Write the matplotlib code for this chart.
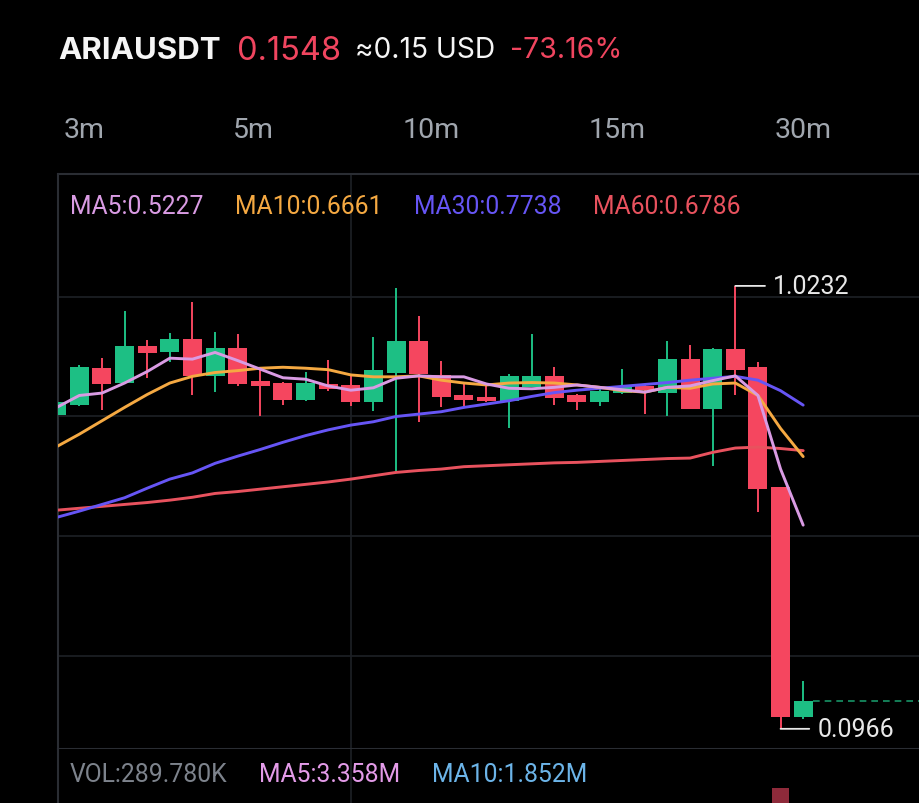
# coding=utf-8
import matplotlib
matplotlib.use('Agg')
import matplotlib.pyplot as plt
import numpy as np

# K线数据 (从截图估读)
opens = [0.753, 0.774, 0.852, 0.820, 0.897, 0.884, 0.912, 0.835, 0.893, 0.824,
         0.820, 0.785, 0.819, 0.816, 0.780, 0.842, 0.907, 0.837, 0.795, 0.790,
         0.783, 0.811, 0.834, 0.795, 0.780, 0.799, 0.813, 0.799, 0.870, 0.766,
         0.891, 0.853, 0.602, 0.122]
highs = [0.780, 0.858, 0.872, 0.970, 0.909, 0.925, 0.989, 0.926, 0.922, 0.848,
         0.822, 0.844, 0.868, 0.835, 0.916, 1.019, 0.960, 0.866, 0.820, 0.813,
         0.839, 0.923, 0.853, 0.798, 0.814, 0.849, 0.818, 0.908, 0.900, 0.893,
         1.0232, 0.865, 0.602, 0.196]
lows = [0.753, 0.773, 0.764, 0.818, 0.831, 0.863, 0.794, 0.801, 0.813, 0.752,
        0.774, 0.782, 0.804, 0.773, 0.762, 0.635, 0.738, 0.769, 0.773, 0.780,
        0.726, 0.811, 0.774, 0.764, 0.771, 0.798, 0.755, 0.752, 0.766, 0.647,
        0.795, 0.550, 0.0966, 0.117]
closes = [0.780, 0.853, 0.819, 0.897, 0.883, 0.912, 0.835, 0.893, 0.819, 0.814,
          0.785, 0.821, 0.808, 0.780, 0.847, 0.907, 0.839, 0.790, 0.785, 0.782,
          0.834, 0.834, 0.789, 0.780, 0.804, 0.813, 0.805, 0.870, 0.766, 0.891,
          0.848, 0.598, 0.122, 0.1548]

# 均线 (从截图估读)
ma5 = [0.769, 0.794, 0.799, 0.820, 0.844, 0.872, 0.870, 0.884, 0.867, 0.849,
       0.831, 0.828, 0.814, 0.805, 0.810, 0.830, 0.835, 0.833, 0.833, 0.818,
       0.809, 0.808, 0.811, 0.816, 0.811, 0.806, 0.801, 0.811, 0.814, 0.825,
       0.835, 0.794, 0.640, 0.5227]
ma10 = [0.687, 0.713, 0.741, 0.769, 0.796, 0.820, 0.834, 0.842, 0.846, 0.851,
        0.853, 0.851, 0.848, 0.837, 0.833, 0.833, 0.835, 0.826, 0.820, 0.816,
        0.820, 0.821, 0.820, 0.816, 0.811, 0.804, 0.801, 0.811, 0.809, 0.818,
        0.820, 0.794, 0.725, 0.6661]
ma30 = [0.539, 0.552, 0.566, 0.580, 0.600, 0.619, 0.632, 0.652, 0.667, 0.681,
        0.696, 0.710, 0.722, 0.732, 0.739, 0.750, 0.755, 0.760, 0.769, 0.776,
        0.783, 0.792, 0.800, 0.805, 0.809, 0.813, 0.817, 0.821, 0.826, 0.830,
        0.834, 0.826, 0.804, 0.7738]
ma60 = [0.554, 0.558, 0.562, 0.566, 0.570, 0.575, 0.581, 0.589, 0.593, 0.598,
        0.603, 0.608, 0.613, 0.619, 0.626, 0.633, 0.637, 0.640, 0.645, 0.647,
        0.649, 0.651, 0.653, 0.654, 0.656, 0.658, 0.660, 0.662, 0.663, 0.675,
        0.684, 0.686, 0.683, 0.6786]

# 成交量 (单位 M, 只看得到最大的一根)
vols = [0.35, 0.42, 0.30, 0.48, 0.26, 0.31, 0.55, 0.37, 0.40, 0.28,
        0.25, 0.22, 0.20, 0.24, 0.33, 0.70, 0.45, 0.27, 0.18, 0.16,
        0.30, 0.29, 0.26, 0.19, 0.28, 0.31, 0.26, 0.42, 0.46, 1.20,
        2.10, 3.40, 9.80, 0.2898]

periods = ['3m', '5m', '10m', '15m', '30m']

# 颜色
GREEN = '#1DBF84'
RED = '#F5465F'
MA_COLORS = ['#D99BE3', '#F5A942', '#6655F5', '#E8525E']
GRID = '#1E2126'
BORDER = '#2A2D33'

W, H = 919, 804


# 像素坐标转换成figure坐标
def fx(px):
    return px / W


def fy(py):
    return 1 - py / H


fig = plt.figure(figsize=(W / 100, H / 100), dpi=100, facecolor='black')
plt.rcParams['font.family'] = ['Roboto', 'DejaVu Sans']

# 主图 K线
ax = fig.add_axes([fx(58), fy(750), fx(919) - fx(58), (750 - 175) / H])
ax.set_facecolor('black')
x = np.arange(len(closes))
o = np.array(opens)
c = np.array(closes)
up = c >= o
cols = [GREEN if u else RED for u in up]
# 影线
ax.vlines(x, lows, highs, color=cols, lw=1.4, zorder=2)
# 实体
ax.bar(x, np.maximum(np.abs(c - o), 0.004), bottom=np.minimum(o, c),
       width=0.84, color=cols, zorder=3)
# 均线
for ma, col in zip([ma60, ma30, ma10, ma5], MA_COLORS[::-1]):
    ax.plot(x, ma, color=col, lw=2.1, zorder=4, solid_capstyle='round')

# 网格线
for gy in [0.25, 0.5, 0.75, 1.0]:
    ax.axhline(gy, color=GRID, lw=1.2, zorder=0)
ax.axvline(13, color=GRID, lw=1.2, zorder=0)
ax.set_xlim(0.057, 38.12)
ax.set_ylim(0.0544, 1.2573)
ax.set_xticks([])
ax.set_yticks([])
ax.spines['right'].set_visible(False)
for s in ['top', 'left', 'bottom']:
    ax.spines[s].set_color(BORDER)
    ax.spines[s].set_linewidth(1.5)

# 最高/最低价标注
hi = int(np.argmax(highs))
lo = int(np.argmin(lows))
ax.annotate('%.4f' % highs[hi], xy=(hi, highs[hi]), xytext=(38, 0),
            textcoords='offset pixels', color='#E8E8E8', fontsize=18,
            va='center', ha='left',
            arrowprops=dict(arrowstyle='-', color='#E8E8E8', lw=1.3,
                            shrinkA=4, shrinkB=0))
ax.annotate('%.4f' % lows[lo], xy=(lo, lows[lo]), xytext=(37, 0),
            textcoords='offset pixels', color='#E8E8E8', fontsize=18,
            va='center', ha='left',
            arrowprops=dict(arrowstyle='-', color='#E8E8E8', lw=1.3,
                            shrinkA=4, shrinkB=0))
# 最新价虚线
ax.plot([x[-1] + 0.42, 38.12], [closes[-1], closes[-1]], color='#179467',
        lw=1.2, ls=(0, (4, 3)), zorder=2)

# 成交量副图 (下面被截掉了)
axv = fig.add_axes([fx(58), fy(1000), fx(919) - fx(58), 250 / H])
axv.set_facecolor('black')
vcols = ['#0E5E42' if u else '#8E2A3A' for u in up]
axv.bar(x, vols, width=0.78, color=vcols)
axv.axvline(13, color=GRID, lw=1.2, zorder=0)
axv.set_xlim(0.057, 38.12)
axv.set_ylim(0, 11.61)
axv.set_xticks([])
axv.set_yticks([])
for s in ['top', 'right', 'bottom']:
    axv.spines[s].set_visible(False)
axv.spines['left'].set_color(BORDER)
axv.spines['left'].set_linewidth(1.5)

# 标题
hfont = ['Inter', 'DejaVu Sans']
fig.text(fx(58), fy(51), 'ARIAUSDT', color='#F5F5F5', fontsize=22.5,
         fontweight='bold', va='center', family=hfont)
fig.text(fx(237), fy(51), '0.1548', color='#F0455F', fontsize=23.5,
         va='center', family=hfont)
fig.text(fx(355), fy(51), '≈0.15 USD', color='#F5F5F5', fontsize=20.3,
         va='center', family=hfont)
fig.text(fx(510), fy(51), '-73.16%', color='#F0455F', fontsize=20.5,
         va='center', family=hfont)

# 周期
for p, px in zip(periods, [84, 253, 431, 617, 803]):
    fig.text(fx(px), fy(131), p, color='#A0A6AE', fontsize=20.5,
             ha='center', va='center')

# 均线数值
ma_txt = ['MA5:%.4f' % ma5[-1], 'MA10:%.4f' % ma10[-1],
          'MA30:%.4f' % ma30[-1], 'MA60:%.4f' % ma60[-1]]
for t, col, px in zip(ma_txt, MA_COLORS, [70, 235, 414, 593]):
    fig.text(fx(px), fy(207), t, color=col, fontsize=17.8, va='center')

# 成交量数值
fig.text(fx(70), fy(775), 'VOL:289.780K', color='#7D838C', fontsize=17.8,
         va='center')
fig.text(fx(259), fy(775), 'MA5:3.358M', color='#E39BE8', fontsize=17.8,
         va='center')
fig.text(fx(432), fy(775), 'MA10:1.852M', color='#6CB4E8', fontsize=17.8,
         va='center')

plt.savefig('out.png', dpi=100, facecolor='black')
